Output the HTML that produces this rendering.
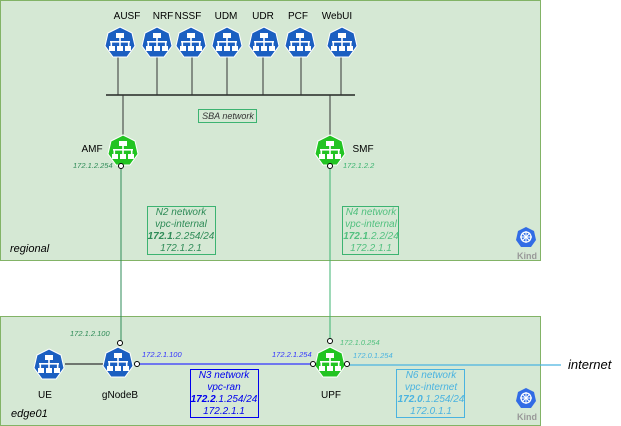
<!DOCTYPE html>
<html><head><meta charset="utf-8"><style>
html,body{margin:0;padding:0;background:#fff;}
svg{display:block;font-family:"Liberation Sans",sans-serif;}
</style></head><body>
<svg width="621" height="426" viewBox="0 0 621 426" xmlns="http://www.w3.org/2000/svg">
<defs>
<g id="glyph">
  <rect x="-4" y="-9" width="8" height="5" fill="#fff"/>
  <rect x="-0.8" y="-4" width="1.6" height="4" fill="#fff"/>
  <rect x="-10" y="-1" width="20" height="1.6" fill="#fff"/>
  <rect x="-9.5" y="-1" width="1.6" height="5" fill="#fff"/>
  <rect x="7.9" y="-1" width="1.6" height="5" fill="#fff"/>
  <rect x="-0.8" y="-1" width="1.6" height="5" fill="#fff"/>
  <rect x="-11" y="4" width="6" height="5" fill="#fff"/>
  <rect x="-3" y="4" width="6" height="5" fill="#fff"/>
  <rect x="5" y="4" width="6" height="5" fill="#fff"/>
</g>
<g id="blue">
  <polygon points="0,-15 12,-9 15,4 7,15 -7,15 -15,4 -12,-9" fill="#1b5fc1" stroke="#fff" stroke-width="1"/>
  <use href="#glyph"/>
</g>
<g id="green">
  <polygon points="0,-15 12,-9 15,4 7,15 -7,15 -15,4 -12,-9" fill="#22c422" stroke="#fff" stroke-width="1"/>
  <use href="#glyph"/>
</g>
<g id="kind">
  <polygon points="0,-10 8,-6 10,3 5,10 -5,10 -10,3 -8,-6" fill="#326ce5"/>
  <circle r="5" fill="none" stroke="#fff" stroke-width="1.3"/>
  <circle r="1.5" fill="#fff"/>
  <path d="M0,-6V6M-6,0H6M-4,-4L4,4M4,-4L-4,4" stroke="#fff" stroke-width="1"/>
</g>
</defs>

<rect x="0.5" y="0.5" width="540" height="260" fill="#d5e8d4" stroke="#82b366"/>
<rect x="0.5" y="316.5" width="540" height="109" fill="#d5e8d4" stroke="#82b366"/>

<line x1="106" y1="95" x2="355" y2="95" stroke="#000" stroke-width="1.3"/>
<g stroke="#333" stroke-width="1">
<line x1="118" y1="55" x2="118" y2="95"/><line x1="157" y1="55" x2="157" y2="95"/>
<line x1="192" y1="55" x2="192" y2="95"/><line x1="227" y1="55" x2="227" y2="95"/>
<line x1="263" y1="55" x2="263" y2="95"/><line x1="301" y1="55" x2="301" y2="95"/>
<line x1="341" y1="55" x2="341" y2="95"/>
<line x1="123" y1="95" x2="123" y2="137"/><line x1="330" y1="95" x2="330" y2="137"/>
</g>
<g font-size="10" fill="#000" text-anchor="middle">
<text x="127" y="19">AUSF</text><text x="163" y="19">NRF</text><text x="188" y="19">NSSF</text>
<text x="226" y="19">UDM</text><text x="263" y="19">UDR</text><text x="298" y="19">PCF</text><text x="337" y="19">WebUI</text>
</g>
<use href="#blue" x="120" y="42"/><use href="#blue" x="157" y="42"/><use href="#blue" x="191" y="42"/>
<use href="#blue" x="227" y="42"/><use href="#blue" x="264" y="42"/><use href="#blue" x="300" y="42"/><use href="#blue" x="342" y="42"/>

<rect x="198.5" y="109.5" width="58" height="13" fill="none" stroke="#3cb371"/>
<text x="228" y="119" font-size="9" font-style="italic" text-anchor="middle" fill="#333">SBA network</text>

<line x1="121" y1="166" x2="121" y2="343" stroke="#2e8b57" stroke-width="1"/>
<line x1="330" y1="166" x2="330" y2="341" stroke="#3cb371" stroke-width="1"/>
<line x1="65" y1="364" x2="107" y2="364" stroke="#333" stroke-width="1.3"/>
<line x1="137" y1="364" x2="313" y2="364" stroke="#3333ff" stroke-width="1.3"/>
<line x1="347" y1="365" x2="561" y2="365" stroke="#4ab3e0" stroke-width="1.3"/>

<use href="#green" x="123" y="150"/><use href="#green" x="330" y="150"/>
<text x="92" y="152" font-size="10" text-anchor="middle">AMF</text>
<text x="363" y="152" font-size="10" text-anchor="middle">SMF</text>
<text x="73" y="168" font-size="7.5" font-style="italic" fill="#2e8b57">172.1.2.254</text>
<text x="343" y="168" font-size="7.5" font-style="italic" fill="#3cb371">172.1.2.2</text>

<rect x="147.5" y="206.5" width="68" height="48" fill="none" stroke="#3cb371"/>
<g font-size="10" font-style="italic" text-anchor="middle" fill="#2e8b57">
<text x="181" y="215">N2 network</text><text x="181" y="227">vpc-internal</text>
<text x="181" y="239"><tspan font-weight="bold">172.1</tspan>.2.254/24</text><text x="181" y="251">172.1.2.1</text>
</g>
<rect x="342.5" y="206.5" width="56" height="48" fill="none" stroke="#3cb371"/>
<g font-size="10" font-style="italic" text-anchor="middle" fill="#52c07f">
<text x="371" y="215">N4 network</text><text x="371" y="227">vpc-internal</text>
<text x="371" y="239"><tspan font-weight="bold">172.1</tspan>.2.2/24</text><text x="371" y="251">172.2.1.1</text>
</g>

<text x="10" y="252" font-size="11" font-style="italic">regional</text>
<text x="11" y="417" font-size="11" font-style="italic">edge01</text>

<use href="#kind" x="526" y="237"/><use href="#kind" x="526" y="398"/>
<text x="527" y="259" font-size="9" font-weight="bold" fill="#999" text-anchor="middle">Kind</text>
<text x="527" y="420" font-size="9" font-weight="bold" fill="#999" text-anchor="middle">Kind</text>

<use href="#blue" x="49" y="364"/><use href="#blue" x="118" y="362"/><use href="#green" x="330" y="362"/>
<g font-size="10" text-anchor="middle">
<text x="45" y="398">UE</text><text x="120" y="398">gNodeB</text><text x="331" y="398">UPF</text>
</g>
<g fill="#fff" stroke="#000" stroke-width="1">
<circle cx="121" cy="166" r="2.5"/><circle cx="330" cy="166" r="2.5"/>
<circle cx="120" cy="343" r="2.5"/><circle cx="137" cy="364" r="2.5"/>
<circle cx="313" cy="364" r="2.5"/><circle cx="330" cy="341" r="2.5"/><circle cx="347" cy="364" r="2.5"/>
</g>
<g font-size="7.5" font-style="italic">
<text x="70" y="336" fill="#2e8b57">172.1.2.100</text>
<text x="142" y="357" fill="#3333ff">172.2.1.100</text>
<text x="272" y="357" fill="#3333ff">172.2.1.254</text>
<text x="340" y="345" fill="#52c07f">172.1.0.254</text>
<text x="353" y="358" fill="#4ab3e0">172.0.1.254</text>
</g>
<text x="568" y="369" font-size="13" font-style="italic">internet</text>

<rect x="190.5" y="369.5" width="68" height="48" fill="none" stroke="#0000ee"/>
<g font-size="10" font-style="italic" text-anchor="middle" fill="#0000ee">
<text x="224" y="378">N3 network</text><text x="224" y="390">vpc-ran</text>
<text x="224" y="402"><tspan font-weight="bold">172.2</tspan>.1.254/24</text><text x="224" y="414">172.2.1.1</text>
</g>
<rect x="396.5" y="369.5" width="68" height="48" fill="none" stroke="#4ab3e0"/>
<g font-size="10" font-style="italic" text-anchor="middle" fill="#4ab3e0">
<text x="431" y="378">N6 network</text><text x="431" y="390">vpc-internet</text>
<text x="431" y="402"><tspan font-weight="bold">172.0</tspan>.1.254/24</text><text x="431" y="414">172.0.1.1</text>
</g>
</svg>
</body></html>
